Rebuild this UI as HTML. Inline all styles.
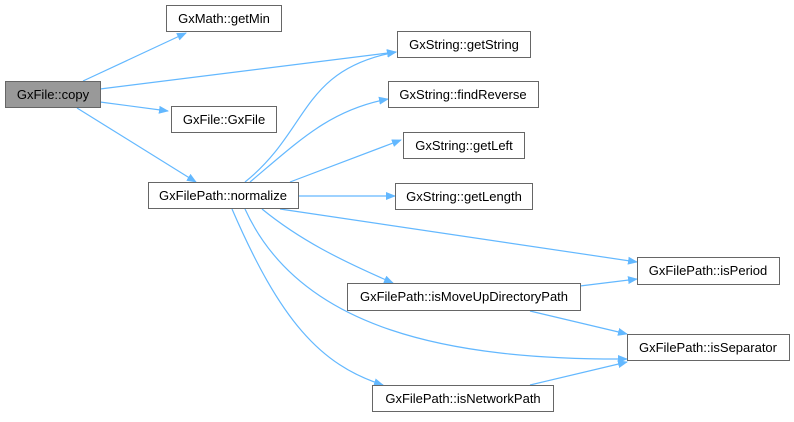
<!DOCTYPE html>
<html><head><meta charset="utf-8"><style>
html,body{margin:0;padding:0;background:#fff;}
text{font-family:"Liberation Sans",sans-serif;font-size:13px;fill:#000;}
</style></head><body>
<svg width="794" height="417" viewBox="0 0 794 417" xmlns="http://www.w3.org/2000/svg">
<defs><marker id="a" markerWidth="10" markerHeight="8" refX="9" refY="4" orient="auto" markerUnits="userSpaceOnUse"><path d="M0,0 L10,4 L0,8 Z" fill="#63b8ff"/></marker></defs>
<g fill="none" stroke="#63b8ff" stroke-width="1.2" marker-end="url(#a)">
<path d="M83,81 L186,33"/>
<path d="M100,89 L396,52"/>
<path d="M100,102 L168,111"/>
<path d="M77,108 L196,182"/>
<path d="M245,182 C310,130 300,70 396,52"/>
<path d="M250,182 C300,140 330,110 388,99"/>
<path d="M290,182 L401,140"/>
<path d="M299,196 L395,196"/>
<path d="M280,209 L637,262"/>
<path d="M262,209 C300,240 340,260 393,283"/>
<path d="M580,286 L637,279"/>
<path d="M530,311 L627,334"/>
<path d="M245,209 C300,330 450,360 627,359"/>
<path d="M232,209 C280,320 320,365 383,385"/>
<path d="M530,385 L627,362"/>
</g>
<g stroke="#999" stroke-width="1" fill="#fff">
<rect x="5.5" y="81.5" width="95" height="26" fill="#999" stroke="#666"/>
<rect x="166.5" y="5.5" width="115" height="26" stroke="#666"/>
<rect x="171.5" y="106.5" width="105" height="26" stroke="#666"/>
<rect x="148.5" y="182.5" width="150" height="26" stroke="#666"/>
<rect x="397.5" y="31.5" width="133" height="26" stroke="#666"/>
<rect x="388.5" y="81.5" width="150" height="26" stroke="#666"/>
<rect x="403.5" y="132.5" width="121" height="26" stroke="#666"/>
<rect x="395.5" y="183.5" width="137" height="26" stroke="#666"/>
<rect x="637.5" y="257.5" width="142" height="27" stroke="#666"/>
<rect x="347.5" y="283.5" width="233" height="27" stroke="#666"/>
<rect x="627.5" y="334.5" width="162" height="26" stroke="#666"/>
<rect x="372.5" y="385.5" width="181" height="26" stroke="#666"/>
</g>
<g text-anchor="middle">
<text x="53" y="99">GxFile::copy</text>
<text x="224" y="23">GxMath::getMin</text>
<text x="224" y="124">GxFile::GxFile</text>
<text x="223" y="200">GxFilePath::normalize</text>
<text x="464" y="49">GxString::getString</text>
<text x="463" y="99">GxString::findReverse</text>
<text x="464" y="150">GxString::getLeft</text>
<text x="464" y="201">GxString::getLength</text>
<text x="708" y="275">GxFilePath::isPeriod</text>
<text x="464" y="301">GxFilePath::isMoveUpDirectoryPath</text>
<text x="708" y="352">GxFilePath::isSeparator</text>
<text x="463" y="403">GxFilePath::isNetworkPath</text>
</g>
</svg>
</body></html>
